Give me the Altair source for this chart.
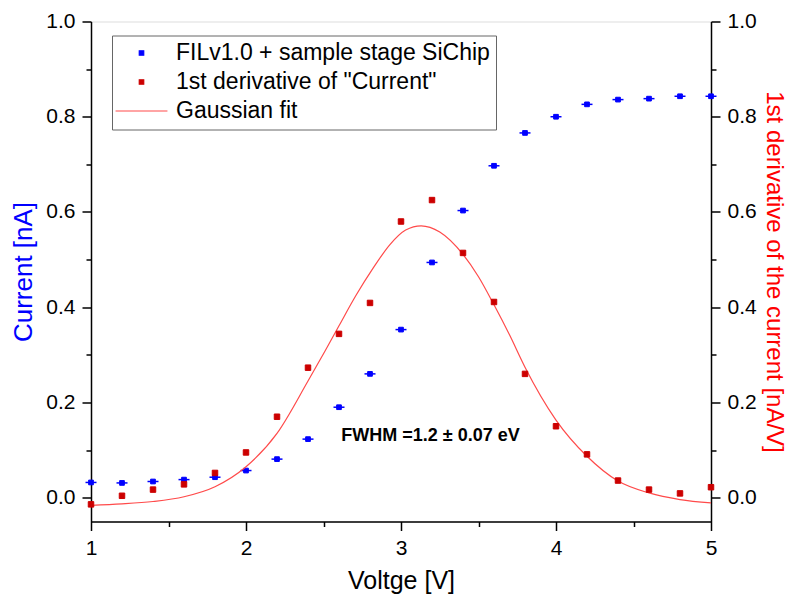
import altair as alt
import pandas as pd

# ---- data ----
voltage = [1.0, 1.2, 1.4, 1.6, 1.8, 2.0, 2.2, 2.4, 2.6, 2.8, 3.0,
           3.2, 3.4, 3.6, 3.8, 4.0, 4.2, 4.4, 4.6, 4.8, 5.0]
current = [0.032, 0.031, 0.034, 0.038, 0.043, 0.057, 0.081, 0.123, 0.190, 0.260, 0.353,
           0.494, 0.603, 0.697, 0.766, 0.800, 0.826, 0.836, 0.838, 0.843, 0.843]
derivative = [-0.014, 0.004, 0.017, 0.028, 0.052, 0.095, 0.170, 0.273, 0.344, 0.409, 0.580,
              0.625, 0.514, 0.411, 0.260, 0.150, 0.091, 0.036, 0.017, 0.009, 0.022]
fit_v = [1.0, 1.2, 1.4, 1.6, 1.8, 2.0, 2.2, 2.4, 2.51, 2.6, 2.71, 2.82, 2.93, 3.03, 3.13,
         3.25, 3.4, 3.5, 3.6, 3.7, 3.8, 4.0, 4.2, 4.4, 4.6, 4.8, 5.0]
fit_y = [-0.016, -0.013, -0.008, 0.002, 0.023, 0.065, 0.135, 0.245, 0.308, 0.361, 0.425,
         0.482, 0.532, 0.562, 0.571, 0.558, 0.511, 0.464, 0.405, 0.342, 0.274, 0.163,
         0.087, 0.035, 0.010, -0.004, -0.011]
series_names = ["FILv1.0 + sample stage SiChip", '1st derivative of "Current"', "Gaussian fit"]
ann_x = [2.615]
ann_y = [0.13]
ann_text = ["FWHM =1.2 \u00b1 0.07 eV"]
x_ticks = [1, 1.5, 2, 2.5, 3, 3.5, 4, 4.5, 5]
y_ticks = [0.0, 0.1, 0.2, 0.3, 0.4, 0.5, 0.6, 0.7, 0.8, 0.9, 1.0]

FONT = "Liberation Sans"
BLUE = "#0000FF"
DRED = "#CC0000"
LRED = "#FF4A4A"

df_cur = pd.DataFrame({"V": voltage, "val": current, "series": series_names[0]})
df_der = pd.DataFrame({"V": voltage, "val": derivative, "series": series_names[1]})
df_fit = pd.DataFrame({"V": fit_v, "val": fit_y})
df_ann = pd.DataFrame({"V": ann_x, "val": ann_y, "label": ann_text})

ymajor = "abs(round(datum.value*10)) % 2 == 0"
xmajor = "round(datum.value*2) % 2 == 0"

common_axis = dict(
    labelFont=FONT, labelFontSize=21, labelColor="black",
    titleFont=FONT, titleFontWeight="normal",
    tickColor="black", tickWidth=1.5, domainColor="black", domainWidth=1.5,
    grid=False, labelOverlap=False, labelFlush=False, labelPadding=7,
)

x_axis = alt.Axis(
    values=x_ticks, title="Voltge [V]", titleColor="black", titlePadding=10, titleFontSize=25,
    labelExpr=f"{xmajor} ? format(datum.value, 'd') : ''",
    tickSize={"condition": {"test": xmajor, "value": 9}, "value": 5},
    **common_axis,
)
y_left = alt.Axis(
    values=y_ticks, orient="left", title="Current [nA]", titleColor=BLUE, titlePadding=9,
    titleFontSize=26,
    labelExpr=f"{ymajor} ? format(datum.value, '.1f') : ''",
    tickSize={"condition": {"test": ymajor, "value": 9}, "value": 5},
    **common_axis,
)
y_right = alt.Axis(
    values=y_ticks, orient="right", title="1st derivative of the current [nA/V]",
    titleColor="#FF0000", titlePadding=5, titleFontSize=24,
    labelExpr=f"{ymajor} ? format(datum.value, '.1f') : ''",
    tickSize={"condition": {"test": ymajor, "value": 9}, "value": 5},
    **common_axis,
)

xs = alt.Scale(domain=[1, 5], nice=False, zero=False)
ys = alt.Scale(domain=[-0.05, 1.0], nice=False, zero=False)

legend = alt.Legend(
    orient="none", legendX=21, legendY=14, title=None,
    labelFont=FONT, labelFontSize=23, labelColor="black", labelLimit=500,
    labelOffset=23, symbolOffset=12, symbolSize=20, strokeColor="#666666",
    fillColor="white", padding=6, rowPadding=5, symbolStrokeWidth=1.2, symbolOpacity=1,
)
fill_scale = alt.Scale(domain=series_names, range=[BLUE, DRED, LRED])
shape_scale = alt.Scale(domain=series_names, range=["square", "square", "M-11.6,0L11.6,0"])


def point_layer(df, axis, size):
    return alt.Chart(df).mark_point(filled=True, opacity=1, strokeWidth=1, size=size).encode(
        x=alt.X("V:Q", scale=xs, axis=x_axis),
        y=alt.Y("val:Q", scale=ys, axis=axis),
        fill=alt.Fill("series:N", scale=fill_scale, legend=legend),
        stroke=alt.Stroke("series:N", scale=fill_scale, legend=legend),
        shape=alt.Shape("series:N", scale=shape_scale, legend=legend),
    )


blue_pts = point_layer(df_cur, y_left, 22)
blue_caps = alt.Chart(df_cur).mark_tick(
    orient="horizontal", size=11, thickness=1.5, color=BLUE, opacity=1
).encode(
    x=alt.X("V:Q", scale=xs, axis=x_axis),
    y=alt.Y("val:Q", scale=ys, axis=y_left),
)

fit_line = alt.Chart(df_fit).mark_line(
    color=LRED, strokeWidth=1.2, interpolate="monotone"
).encode(
    x=alt.X("V:Q", scale=xs, axis=x_axis),
    y=alt.Y("val:Q", scale=ys, axis=y_right),
)
red_pts = point_layer(df_der, y_right, 30)
ann = alt.Chart(df_ann).mark_text(
    align="left", baseline="middle", font=FONT, fontSize=18, fontWeight="bold", color="black"
).encode(
    x=alt.X("V:Q", scale=xs, axis=x_axis),
    y=alt.Y("val:Q", scale=ys, axis=y_right),
    text="label:N",
)

left = alt.layer(blue_caps, blue_pts)
right = alt.layer(fit_line, red_pts, ann)

chart = alt.layer(left, right).resolve_scale(y="independent").properties(
    width=620, height=500,
    autosize=alt.AutoSizeParams(type="none"),
    padding={"left": 83, "top": 13.5, "right": 77, "bottom": 73},
).configure_view(stroke="black", strokeWidth=1.5).configure(background="white")

chart.save("out.html", embed_options={"renderer": "svg", "actions": False})
